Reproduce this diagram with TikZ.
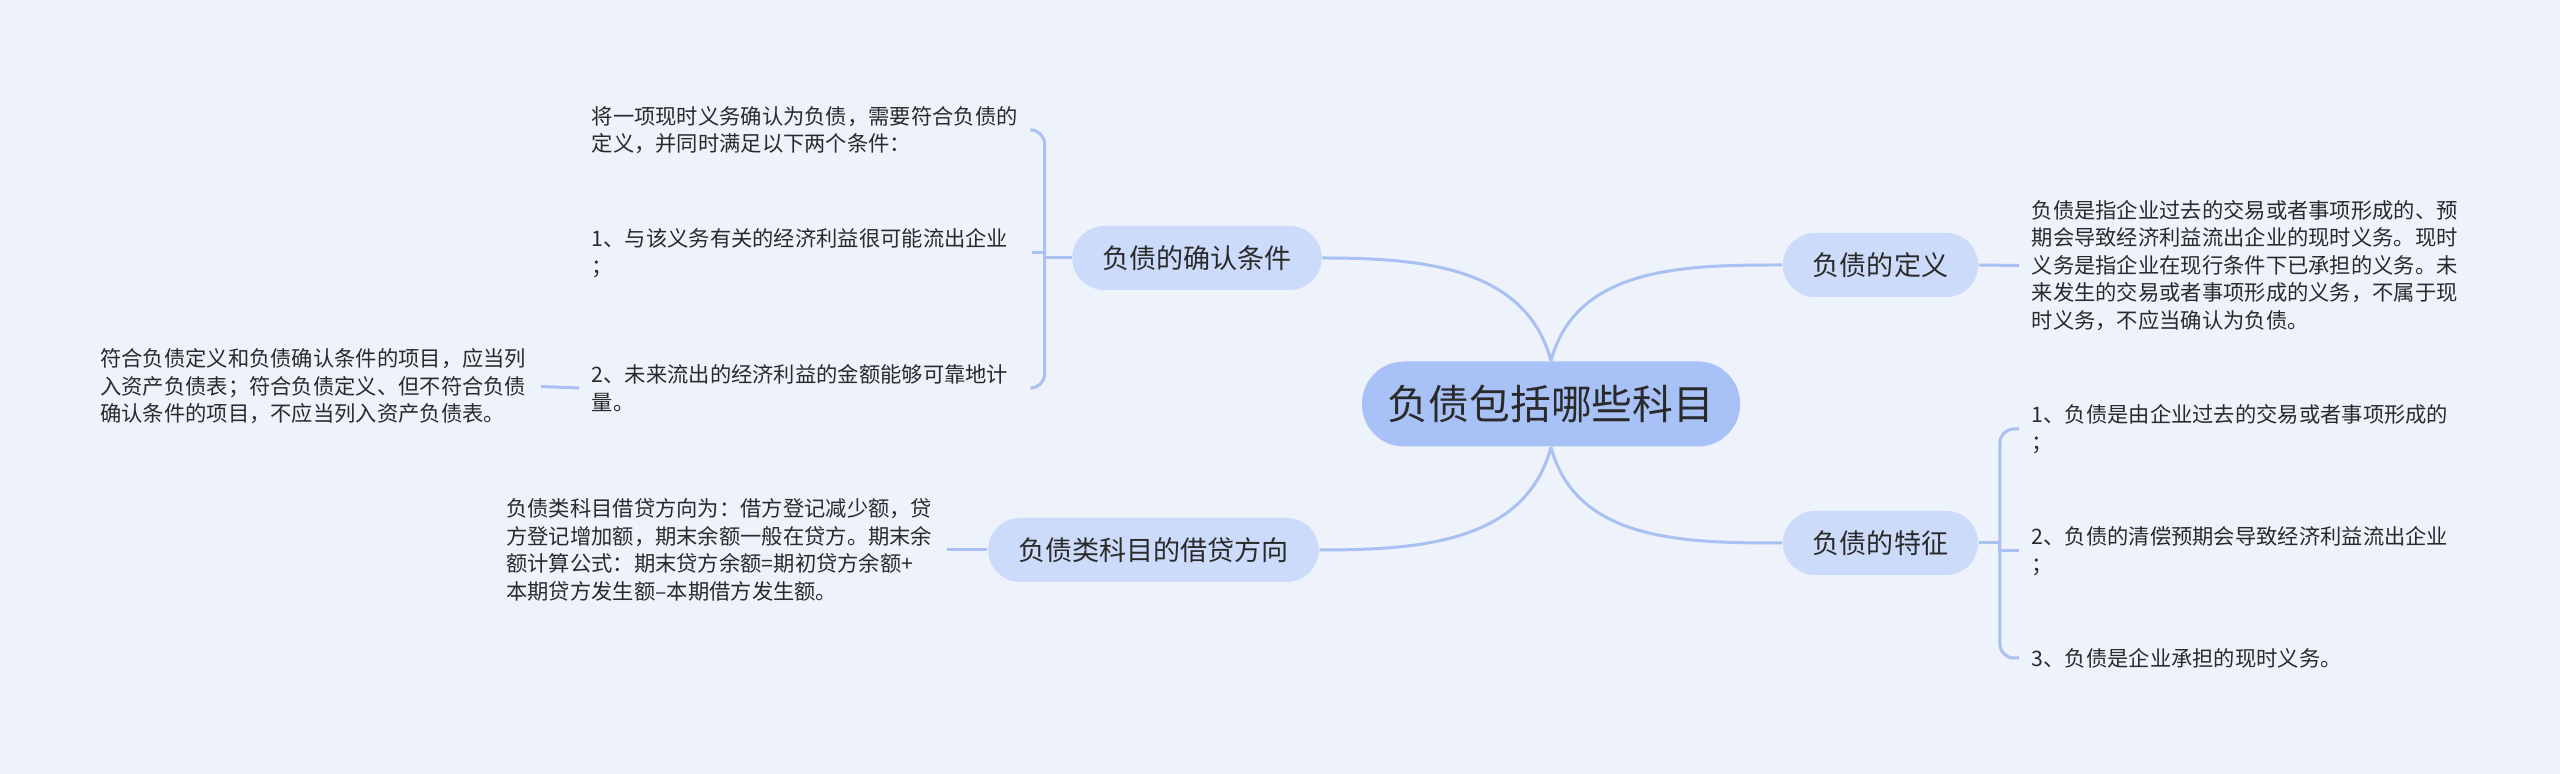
\documentclass[tikz,border=0pt]{standalone}
\usepackage{fontspec}
\setmainfont{Noto Sans CJK SC}
\usepackage{xcolor}
\definecolor{canvas}{HTML}{EEF2FB}
\definecolor{rootfill}{HTML}{A8C1F7}
\definecolor{topicfill}{HTML}{CCDBFA}
\definecolor{linkcol}{HTML}{A9C0F2}
\definecolor{ink}{HTML}{2A2A2A}
\usepackage{tikz}

\tikzset{
  root/.style={fill=rootfill, rounded corners=0.42cm, minimum width=3.78cm,
    minimum height=0.85cm, text=ink, font=\fontsize{11.6}{14}\selectfont},
  topic/.style={fill=topicfill, rounded corners=0.32cm, inner xsep=0.3cm,
    minimum height=0.64cm, text=ink, font=\fontsize{7.7}{9}\selectfont},
  leaf/.style={text width=4.28cm, align=left, inner xsep=0.12cm, inner ysep=0pt,
    text=ink, font=\fontsize{6.06}{7.82}\selectfont},
  link/.style={draw=linkcol, line width=0.85pt},
}

\begin{document}
\begin{tikzpicture}
  \fill[canvas] (0,0) rectangle (25.6,7.74);
  \useasboundingbox (0,0) rectangle (25.6,7.74);

  % 中心主题
  \node[root] (root) at (15.51,3.70) {负债包括哪些科目};

  % 一级分支
  \node[topic] (confirm)    at (11.97,5.16)  {负债的确认条件};
  \node[topic] (direction)  at (11.535,2.24) {负债类科目的借贷方向};
  \node[topic] (definition) at (18.805,5.09) {负债的定义};
  \node[topic] (feature)    at (18.805,2.31) {负债的特征};

  \draw[link] (root.north) to[out=105,in=0]   (confirm.east);
  \draw[link] (root.north) to[out=75,in=180]  (definition.west);
  \draw[link] (root.south) to[out=-105,in=0]  (direction.east);
  \draw[link] (root.south) to[out=-75,in=180] (feature.west);

  % 负债的确认条件：三条，末条再接一条
  \node[leaf, anchor=west] (cond0) at (5.79,6.44)
    {将一项现时义务确认为负债，需要符合负债的\\定义，并同时满足以下两个条件：};
  \node[leaf, anchor=west] (cond1) at (5.79,5.21)
    {1、与该义务有关的经济利益很可能流出企业\\；};
  \node[leaf, anchor=west] (cond2) at (5.79,3.86)
    {2、未来流出的经济利益的金额能够可靠地计\\量。};
  \node[leaf, anchor=east] (listing) at (5.41,3.875)
    {符合负债定义和负债确认条件的项目，应当列\\入资产负债表；符合负债定义、但不符合负债\\确认条件的项目，不应当列入资产负债表。};

  \coordinate (cj) at ([xshift=-0.27cm]confirm.west);
  \draw[link] (confirm.west) -- (cj);
  \foreach \leafname in {cond0,cond2}
    \draw[link, rounded corners=0.14cm] (cj) |- (\leafname.east);
  \draw[link] (cj) |- (cond1.east);
  \draw[link] (cond2.west) -- (listing.east);

  % 负债类科目的借贷方向
  \node[leaf, anchor=east] (ledger) at (9.47,2.24)
    {负债类科目借贷方向为：借方登记减少额，贷\\方登记增加额，期末余额一般在贷方。期末余\\额计算公式：期末贷方余额=期初贷方余额+\\本期贷方发生额–本期借方发生额。};
  \draw[link] (ledger.east) -- (direction.west);

  % 负债的定义
  \node[leaf, anchor=west] (meaning) at (20.19,5.085)
    {负债是指企业过去的交易或者事项形成的、预\\期会导致经济利益流出企业的现时义务。现时\\义务是指企业在现行条件下已承担的义务。未\\来发生的交易或者事项形成的义务，不属于现\\时义务，不应当确认为负债。};
  \draw[link] (definition.east) -- (meaning.west);

  % 负债的特征
  \node[leaf, anchor=west] (feat1) at (20.19,3.45)
    {1、负债是由企业过去的交易或者事项形成的\\；};
  \node[leaf, anchor=west] (feat2) at (20.19,2.23)
    {2、负债的清偿预期会导致经济利益流出企业\\；};
  \node[leaf, anchor=west] (feat3) at (20.19,1.16)
    {3、负债是企业承担的现时义务。};

  \coordinate (fj) at ([xshift=0.21cm]feature.east);
  \draw[link] (feature.east) -- (fj);
  \foreach \leafname in {feat1,feat3}
    \draw[link, rounded corners=0.14cm] (fj) |- (\leafname.west);
  \draw[link] (fj) |- (feat2.west);
\end{tikzpicture}
\end{document}
